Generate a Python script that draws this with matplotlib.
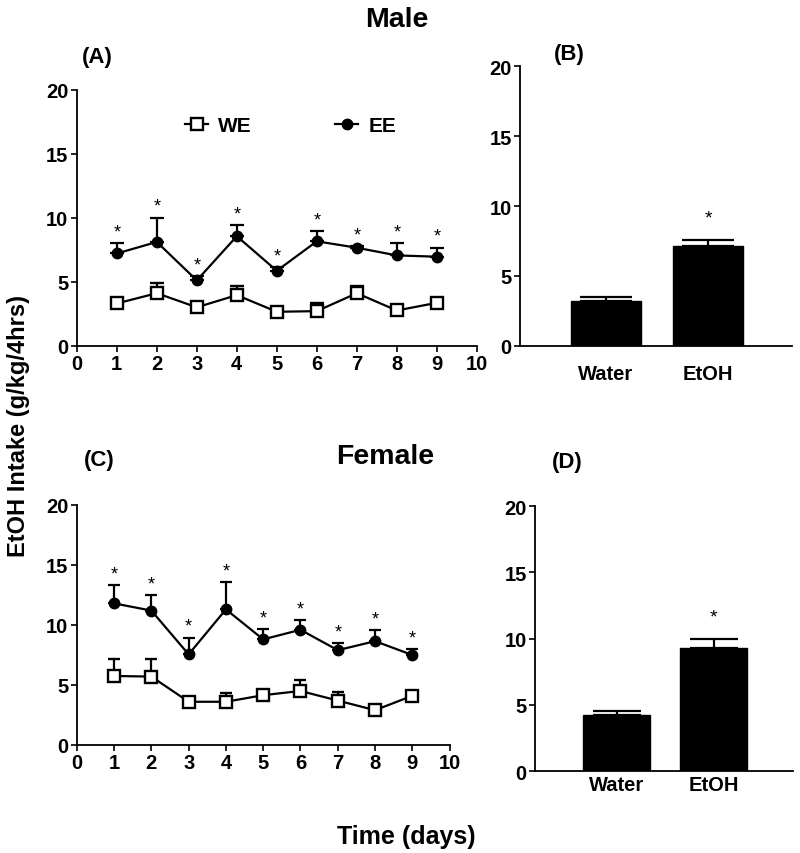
import numpy as np
from matplotlib import pyplot as plt

plt.rcParams['font.family'] = ['Liberation Sans', 'DejaVu Sans']
plt.rcParams['font.weight'] = 'bold'

# Data
days = [1, 2, 3, 4, 5, 6, 7, 8, 9]

male_ee = [7.2, 8.1, 5.1, 8.55, 5.85, 8.15, 7.65, 7.05, 6.95]
male_ee_err = [0.8, 1.9, 0.35, 0.85, 0.3, 0.8, 0.15, 0.95, 0.7]
male_we = [3.3, 4.1, 3.0, 3.95, 2.65, 2.7, 4.1, 2.75, 3.35]
male_we_err = [0.4, 0.8, 0.3, 0.75, 0.3, 0.6, 0.6, 0.3, 0.4]

female_ee = [11.8, 11.2, 7.55, 11.3, 8.8, 9.6, 7.9, 8.65, 7.5]
female_ee_err = [1.55, 1.3, 1.4, 2.25, 0.85, 0.8, 0.6, 0.9, 0.5]
female_we = [5.75, 5.7, 3.6, 3.6, 4.15, 4.5, 3.7, 2.9, 4.1]
female_we_err = [1.4, 1.45, 0.2, 0.7, 0.2, 0.9, 0.7, 0.3, 0.25]

bar_labels = ['Water', 'EtOH']
male_bar = [3.23, 7.14]
male_bar_err = [0.26, 0.43]
female_bar = [4.24, 9.28]
female_bar_err = [0.33, 0.66]

fig = plt.figure(figsize=(8, 8.54), dpi=100)
axA = fig.add_axes([0.096, 0.594, 0.5, 0.300])
axB = fig.add_axes([0.65, 0.594, 0.34, 0.327])
axC = fig.add_axes([0.096, 0.1265, 0.466, 0.281])
axD = fig.add_axes([0.669, 0.096, 0.3225, 0.310])


def style(ax):
    for s in ['top', 'right']:
        ax.spines[s].set_visible(False)
    for s in ['left', 'bottom']:
        ax.spines[s].set_linewidth(1.3)
    ax.tick_params(direction='out', length=4, width=1.2, labelsize=14.5)
    ax.tick_params(axis='y', pad=2)
    ax.set_ylim(0, 20)
    ax.set_yticks([0, 5, 10, 15, 20])


def line_panel(ax, ee, ee_err, we, we_err, cap):
    z = np.zeros(len(days))
    we_line = ax.errorbar(days, we, yerr=[z, we_err], fmt='-s', color='black',
                          mfc='white', mec='black', mew=1.7, ms=8, lw=1.6,
                          capsize=cap, capthick=1.6, elinewidth=1.6, zorder=3)
    ee_line = ax.errorbar(days, ee, yerr=[z, ee_err], fmt='-o', color='black',
                          ms=7.5, lw=1.6, capsize=cap, capthick=1.6,
                          elinewidth=1.6, zorder=3)
    for d, v, e in zip(days, ee, ee_err):
        ax.annotate('*', (d, v + e), xytext=(0, 2), textcoords='offset points',
                    ha='center', va='bottom', fontsize=13, fontweight='normal')
    ax.set_xlim(0, 10)
    ax.set_xticks(range(0, 11))
    style(ax)
    ax.tick_params(axis='x', pad=2)
    return we_line, ee_line


def bar_panel(ax, vals, errs, cap):
    x = np.arange(len(vals))
    ax.bar(x, vals, width=0.69, color='black', edgecolor='black')
    ax.errorbar(x, vals, yerr=[np.zeros(len(vals)), errs], fmt='none',
                ecolor='black', capsize=cap, capthick=1.6, elinewidth=1.6)
    ax.annotate('*', (1, vals[1] + errs[1]), xytext=(0, 10),
                textcoords='offset points', ha='center', va='bottom',
                fontsize=14, fontweight='normal')
    ax.set_xlim(-0.84, 1.82)
    ax.set_xticks(x)
    ax.set_xticklabels(bar_labels)
    style(ax)
    ax.tick_params(axis='x', length=0, labelsize=14.5, pad=3)


we_h, ee_h = line_panel(axA, male_ee, male_ee_err, male_we, male_we_err, 5)
line_panel(axC, female_ee, female_ee_err, female_we, female_we_err, 4.3)
bar_panel(axB, male_bar, male_bar_err, 19)
bar_panel(axD, female_bar, female_bar_err, 17)
axB.tick_params(axis='x', pad=13)

axA.legend([we_h[0], ee_h[0]], ['WE', 'EE'], loc='center', ncol=2,
           bbox_to_anchor=(0.535, 0.86), frameon=False, fontsize=15,
           handlelength=1.1, columnspacing=4.0, handletextpad=0.5)

fig.text(0.496, 0.976, 'Male', ha='center', va='center', fontsize=20.5)
fig.text(0.481, 0.465, 'Female', ha='center', va='center', fontsize=20.5)
fig.text(0.122, 0.933, '(A)', ha='center', va='center', fontsize=16)
fig.text(0.712, 0.936, '(B)', ha='center', va='center', fontsize=16)
fig.text(0.124, 0.461, '(C)', ha='center', va='center', fontsize=16)
fig.text(0.709, 0.459, '(D)', ha='center', va='center', fontsize=16)
fig.text(0.023, 0.501, 'EtOH Intake (g/kg/4hrs)', rotation=90,
         ha='center', va='center', fontsize=17)
fig.text(0.508, 0.02, 'Time (days)', ha='center', va='center', fontsize=18)

fig.savefig('out.png', dpi=100)
